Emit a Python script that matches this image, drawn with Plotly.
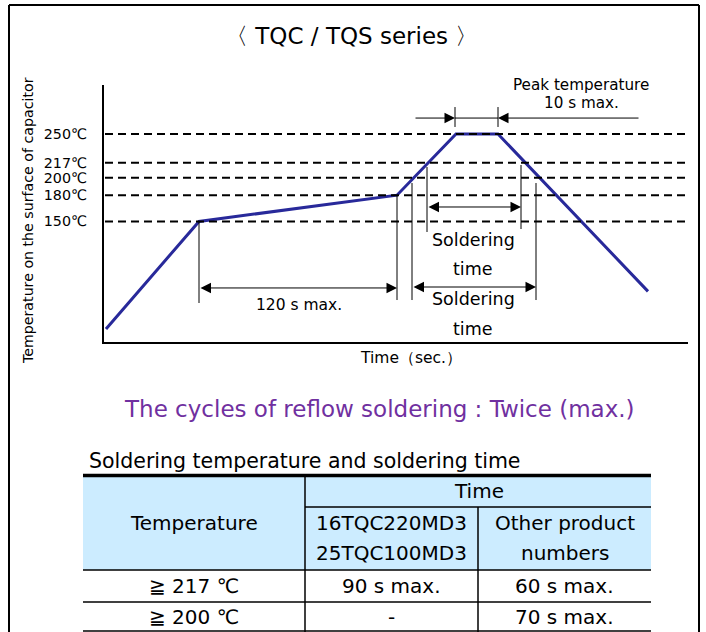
import plotly.graph_objects as go

# ---------------- data ----------------
profile_time = [2, 95, 293, 352, 394, 544]          # schematic time units
profile_temp = [27, 150, 180, 250, 250, 70]         # deg C
level_temps = [250, 217, 200, 180, 150]
level_labels = ["250℃", "217℃", "200℃", "180℃", "150℃"]

# vertical marker lines: (time, temp_low, temp_high)
marker_time = [95, 293, 308, 323, 417, 432, 351, 394]
marker_low = [56.7, 60.1, 60.1, 137.9, 141.3, 60.1, 258, 258]
marker_high = [150, 180.2, 193.9, 212.2, 214.5, 193.9, 280.8, 280.8]

# dimension arrows: (t_start, t_end, temp, both_heads)
arrow_t0 = [95, 323, 308, 310, 536]
arrow_t1 = [293, 417, 432, 351, 394]
arrow_T = [73.9, 166.5, 75.0, 268.2, 268.2]
arrow_both = [True, True, True, False, False]
peak_span = [351, 394, 268.2]

chart_labels = ["120 s max.", "Soldering", "time", "Soldering", "time",
                "Peak temperature", "10 s max."]
chart_label_t = [195, 369, 369, 369, 369, 477, 477]
chart_label_T = [54.4, 128.7, 95.6, 61.3, 27.0, 306, 285.4]
chart_label_size = [15.5, 17.5, 17.5, 17.5, 17.5, 15.2, 15.2]

title_text = "〈 TQC / TQS series 〉"
y_title = "Temperature on the surface of capacitor"
x_title = "Time（sec.）"
cycles_text = "The cycles of reflow soldering : Twice (max.)"
table_title = "Soldering temperature and soldering time"
table_corner = "Temperature"
table_time = "Time"
table_cols = [["16TQC220MD3", "25TQC100MD3"], ["Other product", "numbers"]]
table_rows = ["≧ 217 ℃", "≧ 200 ℃"]
table_col1 = ["90 s max.", "-"]
table_col2 = ["60 s max.", "70 s max."]

FONT = "DejaVu Sans"
W, H = 706, 632
CURVE = "#28299A"

fig = go.Figure()
fig.add_trace(go.Scatter(x=profile_time, y=profile_temp, mode="lines",
                         line=dict(color=CURVE, width=3), hoverinfo="skip",
                         showlegend=False, xaxis="x", yaxis="y"))
fig.add_trace(go.Scatter(x=[0], y=[0], mode="markers", marker=dict(opacity=0),
                         hoverinfo="skip", showlegend=False, xaxis="x2", yaxis="y2"))

shapes = []
ann = []

# dashed temperature levels
for T in level_temps:
    shapes.append(dict(type="line", xref="x", yref="y", x0=1, x1=584, y0=T, y1=T,
                       line=dict(color="black", width=2, dash="8px,5px")))

# vertical markers
for t, lo, hi in zip(marker_time, marker_low, marker_high):
    shapes.append(dict(type="line", xref="x", yref="y", x0=t, x1=t, y0=lo, y1=hi,
                       line=dict(color="black", width=1)))
shapes.append(dict(type="line", xref="x", yref="y", x0=peak_span[0], x1=peak_span[1],
                   y0=peak_span[2], y1=peak_span[2], line=dict(color="black", width=1)))

# arrows
for t0, t1, T, both in zip(arrow_t0, arrow_t1, arrow_T, arrow_both):
    a = dict(xref="x", yref="y", axref="x", ayref="y", x=t1, y=T, ax=t0, ay=T,
             text="", showarrow=True, arrowhead=2, arrowsize=2.1, arrowwidth=1,
             arrowcolor="black")
    if both:
        a.update(arrowside="end+start", startarrowhead=2, startarrowsize=2.1)
    ann.append(a)

for txt, t, T, s in zip(chart_labels, chart_label_t, chart_label_T, chart_label_size):
    ann.append(dict(xref="x", yref="y", x=t, y=T, text=txt, showarrow=False,
                    font=dict(family=FONT, size=s, color="black"),
                    xanchor="center", yanchor="middle"))

# pixel-space texts
def ptext(x, y, txt, size, color="black", xanchor="center", angle=0):
    ann.append(dict(xref="x2", yref="y2", x=x, y=y, text=txt, showarrow=False,
                    font=dict(family=FONT, size=size, color=color),
                    xanchor=xanchor, yanchor="middle", textangle=angle))

ptext(351, 36, title_text, 23)
ptext(28, 221, y_title, 14.2, angle=-90)
ptext(411, 358, x_title, 15.5)
ptext(379, 409, cycles_text, 23, color="#7030A0")
ptext(87, 461, table_title, 20.5, xanchor="left")

# table
shapes.append(dict(type="rect", xref="x2", yref="y2", x0=83, x1=651, y0=475, y1=570,
                   fillcolor="#CCECFF", line=dict(width=0), layer="below"))
shapes.append(dict(type="line", xref="x2", yref="y2", x0=83, x1=651, y0=475.5, y1=475.5,
                   line=dict(color="black", width=3.5)))
for yy in [570, 602, 631]:
    shapes.append(dict(type="line", xref="x2", yref="y2", x0=83, x1=651, y0=yy, y1=yy,
                       line=dict(color="black", width=1.5)))
shapes.append(dict(type="line", xref="x2", yref="y2", x0=305, x1=651, y0=507, y1=507,
                   line=dict(color="black", width=1.5)))
shapes.append(dict(type="line", xref="x2", yref="y2", x0=305, x1=305, y0=475, y1=632,
                   line=dict(color="black", width=1.5)))
shapes.append(dict(type="line", xref="x2", yref="y2", x0=478, x1=478, y0=507, y1=632,
                   line=dict(color="black", width=1.5)))

TS = 20
ptext(194, 523, table_corner, TS)
ptext(479, 491, table_time, TS)
for cx, lines in zip([391.5, 564.5], table_cols):
    ptext(cx, 523, lines[0], TS)
    ptext(cx, 553, lines[1], TS)
for ry, r, c1, c2 in zip([586, 617], table_rows, table_col1, table_col2):
    ptext(194, ry, r, TS)
    ptext(391.5, ry, c1, TS)
    ptext(564.5, ry, c2, TS)

# outer frame
for x0, y0, x1, y1 in [(9, 5, 699, 5), (9, 5, 9, 632), (699, 5, 699, 632)]:
    shapes.append(dict(type="line", xref="x2", yref="y2", x0=x0, x1=x1, y0=y0, y1=y1,
                       line=dict(color="black", width=2)))

fig.update_layout(
    width=W, height=H, margin=dict(l=0, r=0, t=0, b=0),
    paper_bgcolor="white", plot_bgcolor="rgba(0,0,0,0)",
    showlegend=False,
    xaxis=dict(domain=[104 / W, 688 / W], range=[0, 584], showline=True,
               linecolor="black", linewidth=2, showticklabels=False, ticks="",
               showgrid=False, zeroline=False, anchor="y", fixedrange=True),
    yaxis=dict(domain=[1 - 342 / H, 1 - 85 / H], range=[12.1, 306], showline=True,
               linecolor="black", linewidth=2, tickvals=level_temps, ticktext=level_labels,
               tickfont=dict(family=FONT, size=14.3, color="black"), ticks="",
               ticklabelstandoff=12, showgrid=False, zeroline=False, anchor="x",
               fixedrange=True),
    xaxis2=dict(domain=[0, 1], range=[0, W], visible=False, anchor="y2", fixedrange=True),
    yaxis2=dict(domain=[0, 1], range=[H, 0], visible=False, anchor="x2", fixedrange=True),
    shapes=shapes, annotations=ann,
)

fig.write_html("out.html", config={"displayModeBar": False},
               post_script="document.body.style.margin='0';document.body.style.overflow='hidden';")
